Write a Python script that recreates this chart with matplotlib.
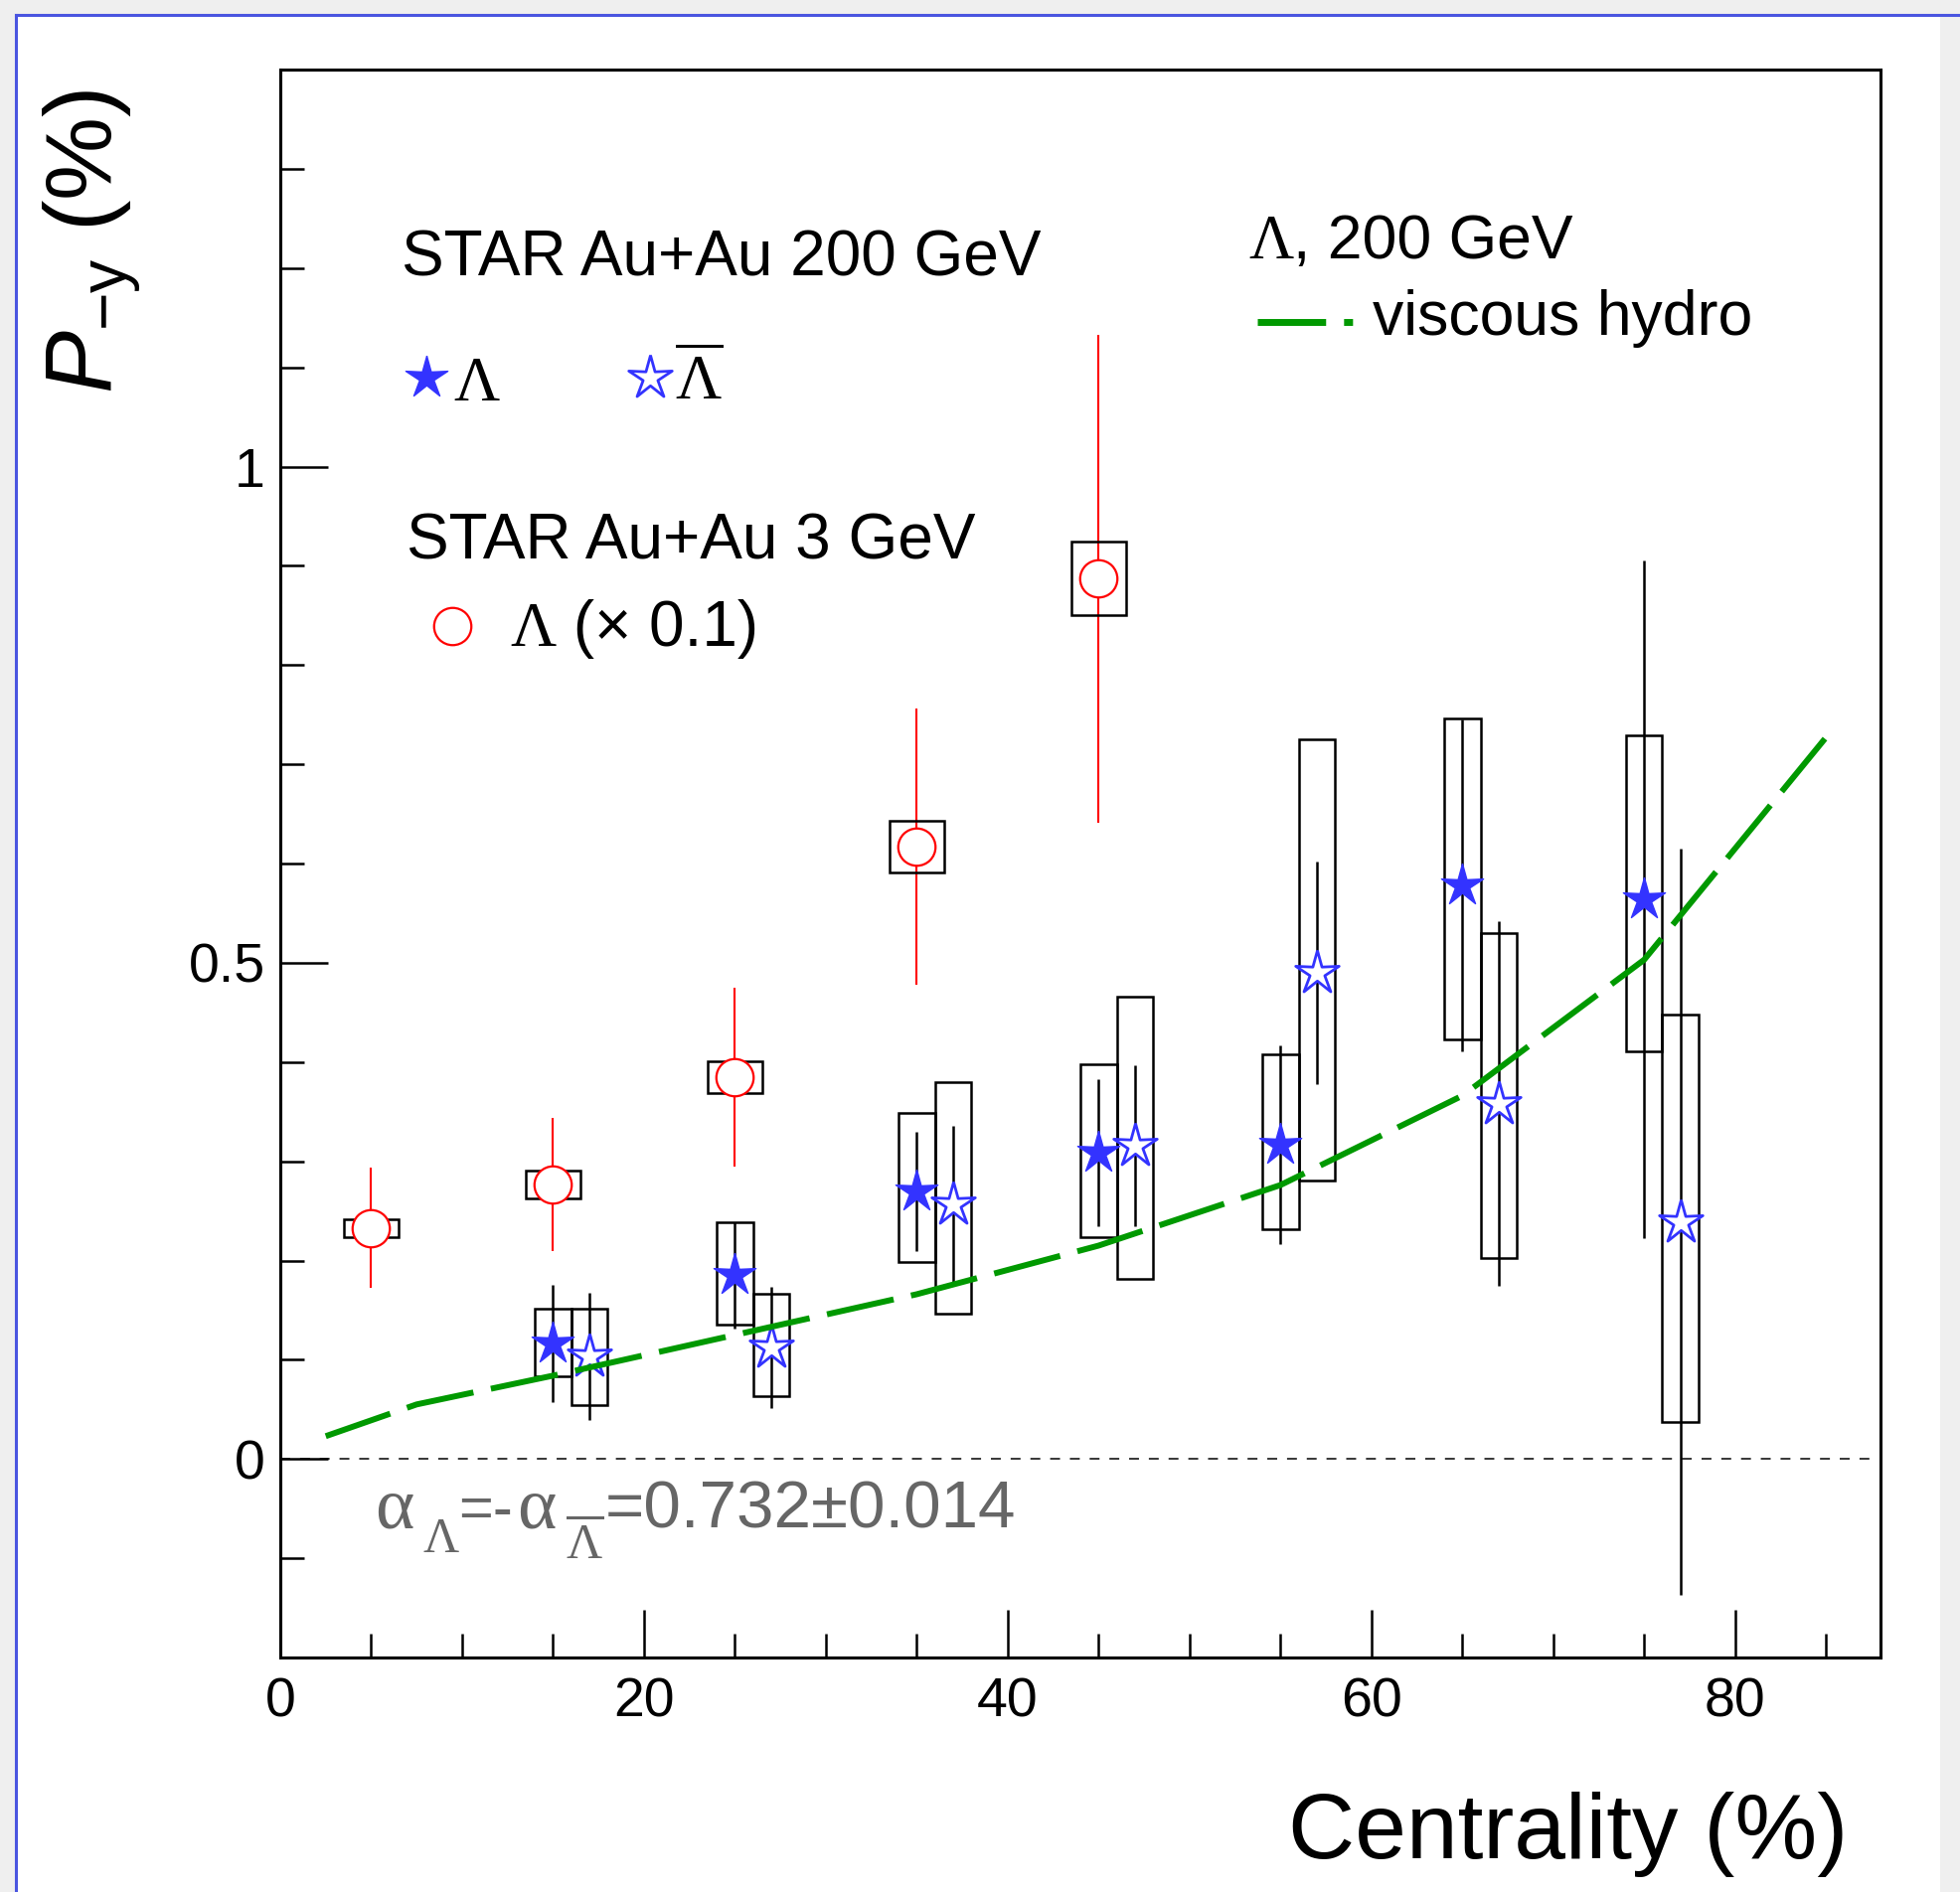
import numpy as np
import matplotlib
matplotlib.use('Agg')
import matplotlib.pyplot as plt
from matplotlib.patches import Rectangle
from matplotlib.lines import Line2D

plt.rcParams['font.family'] = ['Liberation Sans', 'DejaVu Sans']
plt.rcParams['mathtext.fontset'] = 'custom'
plt.rcParams['mathtext.rm'] = 'Liberation Serif'
plt.rcParams['mathtext.sf'] = 'Liberation Sans'
plt.rcParams['mathtext.it'] = 'Liberation Sans:italic'
plt.rcParams['mathtext.bf'] = 'Liberation Sans:bold'

# ---------------- data ----------------
# STAR Au+Au 3 GeV, Lambda (x 0.1)
cent_3 = [5, 15, 25, 35, 45]
pol_3 = [0.233, 0.277, 0.385, 0.617, 0.887]
stat_3 = [0.061, 0.067, 0.090, 0.139, 0.246]
sys_3 = [0.009, 0.014, 0.016, 0.026, 0.037]

# STAR Au+Au 200 GeV, Lambda
cent_l = [15, 25, 35, 45, 55, 65, 75]
pol_l = [0.116, 0.185, 0.270, 0.309, 0.317, 0.578, 0.564]
stat_l = [0.059, 0.054, 0.060, 0.074, 0.100, 0.167, 0.341]
sys_l_hi = [0.035, 0.054, 0.079, 0.089, 0.091, 0.168, 0.165]
sys_l_lo = [0.033, 0.050, 0.072, 0.085, 0.085, 0.155, 0.153]

# STAR Au+Au 200 GeV, anti-Lambda
cent_al = [17, 27, 37, 47, 57, 67, 77]
pol_al = [0.103, 0.112, 0.257, 0.316, 0.490, 0.358, 0.239]
stat_al = [0.064, 0.061, 0.079, 0.081, 0.112, 0.184, 0.376]
sys_al_hi = [0.048, 0.054, 0.123, 0.150, 0.235, 0.172, 0.209]
sys_al_lo = [0.049, 0.049, 0.111, 0.135, 0.209, 0.155, 0.202]

# viscous hydro, Lambda 200 GeV
cent_h = [2.5, 7.5, 15, 25, 35, 45, 55, 65, 75, 85]
pol_h = [0.023, 0.055, 0.084, 0.125, 0.166, 0.215, 0.276, 0.366, 0.503, 0.727]

box_hw_200 = 1.0
box_hw_3 = 1.5

W, H = 1972, 1904
fig = plt.figure(figsize=(W / 100, H / 100), dpi=100)
fig.patch.set_facecolor('#efefef')

# white canvas with blue frame (top and left)
fx0, fy1 = 16 / W, 1 - 15 / H
bg = Rectangle((fx0, 0), 1952 / W - fx0, fy1, transform=fig.transFigure,
               facecolor='white', edgecolor='none', zorder=-10)
fig.patches.append(bg)
fig.lines.append(Line2D([fx0, 1], [fy1, fy1], transform=fig.transFigure, color='#4a55e0', lw=2.2, zorder=-5))
fig.lines.append(Line2D([fx0, fx0], [0, fy1], transform=fig.transFigure, color='#4a55e0', lw=2.2, zorder=-5))

ax = fig.add_axes([282 / W, 1 - 1668 / H, (1892 - 282) / W, (1668 - 70) / H])
ax.set_zorder(1)
ax.set_facecolor('white')
ax.set_xlim(0, 88)
ax.set_ylim(-0.2, 1.4)

for s in ax.spines.values():
    s.set_linewidth(2.2)
ax.set_xticks([0, 20, 40, 60, 80])
ax.set_xticks(np.arange(5, 88, 5), minor=True)
ax.set_yticks([0, 0.5, 1])
ax.set_yticklabels(['0', '0.5', '1'])
ax.set_yticks(np.arange(-0.1, 1.4, 0.1), minor=True)
ax.tick_params(which='both', direction='in', top=False, right=False, width=1.8, labelsize=40)
ax.tick_params(which='major', length=34.5)
ax.tick_params(which='minor', length=17)
ax.tick_params(axis='y', pad=11)
ax.tick_params(axis='x', pad=14)

# zero line
ax.axhline(0, xmin=0, xmax=0.995, color='black', lw=1.1, ls=(0, (6.5, 6.5)), zorder=1)

# custom thin star marker
ang_o = np.deg2rad(90 + 72 * np.arange(5))
ang_i = ang_o + np.deg2rad(36)
r_in = 0.34
verts = []
for a, b in zip(ang_o, ang_i):
    verts.append((np.cos(a), np.sin(a)))
    verts.append((r_in * np.cos(b), r_in * np.sin(b)))
verts.append(verts[0])
star = verts

blue = '#3333ff'
green = '#009900'

def draw_boxes(xs, ys, s_hi, s_lo, hw):
    for x, y, h, l in zip(xs, ys, s_hi, s_lo):
        ax.add_patch(Rectangle((x - hw, y - l), 2 * hw, h + l, facecolor='none',
                               edgecolor='black', lw=1.8, zorder=3))

# 200 GeV boxes and stat errors
draw_boxes(cent_l, pol_l, sys_l_hi, sys_l_lo, box_hw_200)
draw_boxes(cent_al, pol_al, sys_al_hi, sys_al_lo, box_hw_200)
ax.errorbar(cent_l, pol_l, yerr=stat_l, fmt='none', ecolor='black', elinewidth=1.8, capsize=0, zorder=2)
ax.errorbar(cent_al, pol_al, yerr=stat_al, fmt='none', ecolor='black', elinewidth=1.8, capsize=0, zorder=2)
ax.plot(cent_l, pol_l, ls='none', marker=star, ms=32, mfc=blue, mec=blue, mew=1.0, zorder=5)
ax.plot(cent_al, pol_al, ls='none', marker=star, ms=33, mfc='white', mec=blue, mew=2.0, zorder=5)

# 3 GeV
ax.errorbar(cent_3, pol_3, yerr=stat_3, fmt='none', ecolor='red', elinewidth=1.5, capsize=0, zorder=2)
ax.plot(cent_3, pol_3, ls='none', marker='o', ms=27, mfc='white', mec='red', mew=1.6, zorder=4)
draw_boxes(cent_3, pol_3, sys_3, sys_3, box_hw_3)

# hydro
ax.plot(cent_h, pol_h, color=green, lw=4.3, ls=(0, (11.5, 3.0)), dash_capstyle='butt', zorder=6)

# ---------------- texts ----------------
renderer = fig.canvas.get_renderer()

def pieces(x, y, parts, fontsize, color='black'):
    """Place consecutive text pieces on one baseline; x,y in image pixels."""
    cx = x
    for s, fam in parts:
        t = fig.text(cx / W, 1 - y / H, s, fontsize=fontsize, family=fam, color=color,
                     va='baseline', ha='left')
        bb = t.get_window_extent(renderer)
        cx += bb.width

SANS = ['Liberation Sans', 'DejaVu Sans']
SERIF = ['Liberation Serif', 'DejaVu Serif']

pieces(404, 277, [('STAR Au+Au 200 GeV', SANS)], 46)
fig.lines.append(Line2D([429 / W], [1 - 380 / H], transform=fig.transFigure, marker=star, ms=32,
                        mfc=blue, mec=blue, mew=1.0, ls='none'))
pieces(456, 403, [('Λ', SERIF)], 46)
fig.lines.append(Line2D([654 / W], [1 - 380 / H], transform=fig.transFigure, marker=star, ms=33,
                        mfc='white', mec=blue, mew=2.0, ls='none'))
fig.text(679 / W, 1 - 403 / H, r'$\overline{\mathrm{\Lambda}}$', fontsize=46, va='baseline', ha='left')

pieces(409, 562, [('STAR Au+Au 3 GeV', SANS)], 46)
fig.lines.append(Line2D([455 / W], [1 - 630 / H], transform=fig.transFigure, marker='o', ms=27,
                        mfc='white', mec='red', mew=1.6, ls='none'))
pieces(513, 650, [('Λ', SERIF), (' (× 0.1)', SANS)], 46)

pieces(1256, 260, [('Λ', SERIF), (', 200 GeV', SANS)], 45)
fig.lines.append(Line2D([1265 / W, 1361 / W], [1 - 324 / H, 1 - 324 / H], transform=fig.transFigure,
                        color=green, lw=5.0, ls=(0, (9.9, 2.6, 1.3, 2.6)), dash_capstyle='butt'))
pieces(1381, 337, [('viscous hydro', SANS)], 45)

# alpha text
gray = '#666666'
fig.text(377 / W, 1 - 1537 / H, 'α', fontsize=54, family=SERIF, color=gray, va='baseline', ha='left')
fig.text(425 / W, 1 - 1562 / H, 'Λ', fontsize=36, family=SERIF, color=gray, va='baseline', ha='left')
fig.text(461 / W, 1 - 1537 / H, '=-', fontsize=43, family=SANS, color=gray, va='baseline', ha='left')
fig.text(520 / W, 1 - 1537 / H, 'α', fontsize=54, family=SERIF, color=gray, va='baseline', ha='left')
fig.text(569 / W, 1 - 1568 / H, r'$\overline{\mathrm{\Lambda}}$', fontsize=36, color=gray,
         va='baseline', ha='left')
pieces(609, 1537, [('=0.732±0.014', SANS)], 48.5, gray)

fig.text(1859 / W, 1 - 1870 / H, 'Centrality (%)', fontsize=67, va='baseline', ha='right')
fig.text(112 / W, 1 - 396 / H, r'$\mathit{P}_{\mathsf{-y}}\mathsf{\ (\%)}$', fontsize=68,
         rotation=90, rotation_mode='anchor', ha='left', va='baseline')

fig.savefig('out.png', dpi=100, facecolor=fig.get_facecolor())
